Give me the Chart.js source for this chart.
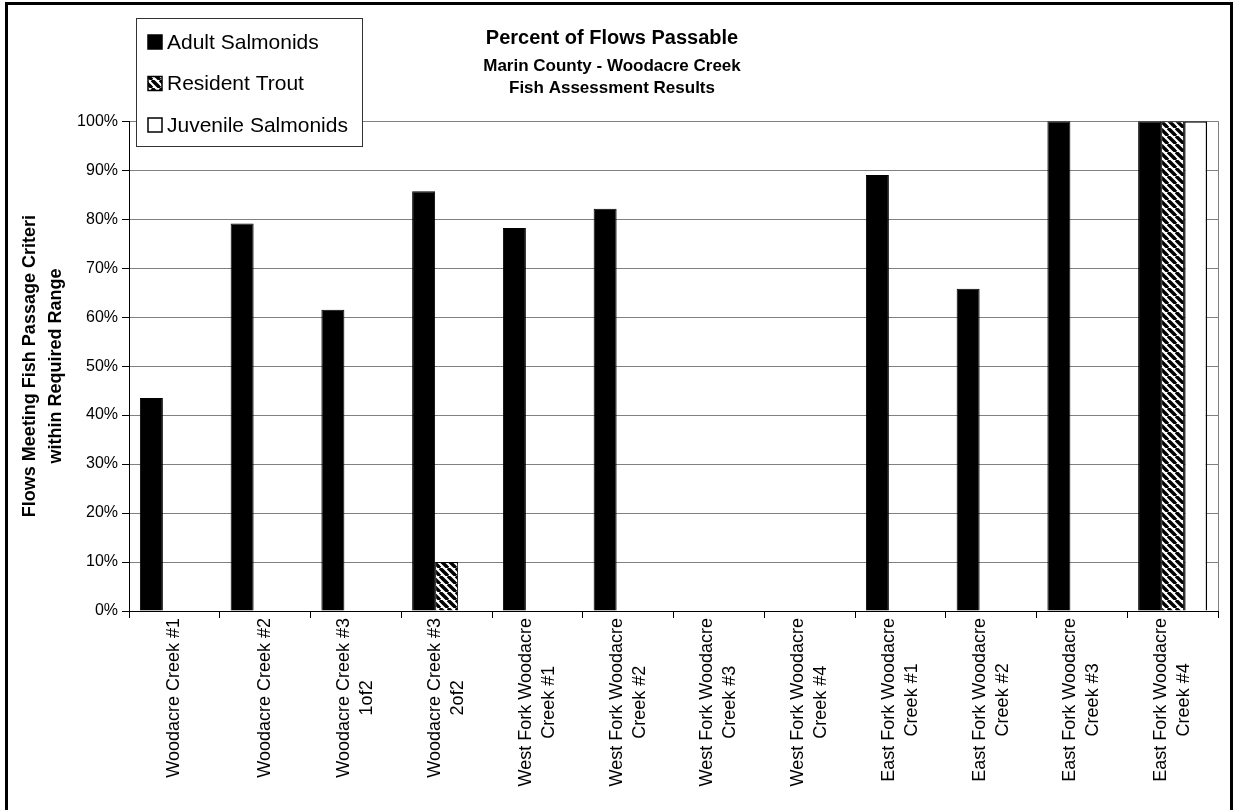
<!DOCTYPE html>
<html>
<head>
<meta charset="utf-8">
<script src="https://cdn.jsdelivr.net/npm/chart.js@4.4.1/dist/chart.umd.min.js"></script>
<style>
  html, body { margin: 0; padding: 0; background: #fff; }
  #wrap { position: relative; width: 1235px; height: 810px; }
</style>
</head>
<body>
<div id="wrap"><canvas id="grafico" width="1235" height="810"></canvas></div>
<script>
/* ==========================================================================
   DADOS
   ========================================================================== */
const categorias = [
    ['Woodacre Creek #1'],
    ['Woodacre Creek #2'],
    ['Woodacre Creek #3', '1of2'],
    ['Woodacre Creek #3', '2of2'],
    ['West Fork Woodacre', 'Creek #1'],
    ['West Fork Woodacre', 'Creek #2'],
    ['West Fork Woodacre', 'Creek #3'],
    ['West Fork Woodacre', 'Creek #4'],
    ['East Fork Woodacre', 'Creek #1'],
    ['East Fork Woodacre', 'Creek #2'],
    ['East Fork Woodacre', 'Creek #3'],
    ['East Fork Woodacre', 'Creek #4']
];
const adultSalmonids    = [43.5, 79.1, 61.5, 85.7, 78.2, 82.1, 0, 0, 89.0, 65.8, 100, 100];
const residentTrout     = [0, 0, 0, 10, 0, 0, 0, 0, 0, 0, 0, 100];
const juvenileSalmonids = [0, 0, 0, 0, 0, 0, 0, 0, 0, 0, 0, 100];
const tituloLinhas = ['Percent of Flows Passable'];
const subtituloLinhas = ['Marin County - Woodacre Creek', 'Fish Assessment Results'];
const tituloEixoY = ['Flows Meeting Fish Passage Criteri', 'within Required Range'];

const FONTE = '"Liberation Sans", Arial, sans-serif';

/* ==========================================================================
   PADRÃO HACHURADO (Resident Trout)
   ========================================================================== */
function criarHachura() {
    const c = document.createElement('canvas');
    c.width = 8; c.height = 8;
    const g = c.getContext('2d');
    g.fillStyle = '#fff';
    g.fillRect(0, 0, 8, 8);
    g.strokeStyle = '#000';
    g.lineWidth = 3.4;
    [-8, 0, 8].forEach(x0 => {
        g.beginPath();
        g.moveTo(x0, 0);
        g.lineTo(x0 + 8, 8);
        g.stroke();
    });
    return g.createPattern(c, 'repeat');
}
const hachura = criarHachura();

/* ==========================================================================
   PLUGIN: moldura, legenda e rótulos do eixo X
   ========================================================================== */
const extrasPlugin = {
    id: 'extras',
    afterDraw(chart) {
        const ctx = chart.ctx;
        const area = chart.chartArea;
        const xs = chart.scales.x;
        ctx.save();

        // borda direita da área de plotagem (cinza)
        ctx.strokeStyle = '#808080';
        ctx.lineWidth = 1;
        ctx.beginPath();
        ctx.moveTo(Math.round(area.right) + 0.5, area.top);
        ctx.lineTo(Math.round(area.right) + 0.5, area.bottom);
        ctx.stroke();

        // rótulos do eixo X (rotacionados, linhas centralizadas)
        ctx.fillStyle = '#000';
        ctx.font = '18px ' + FONTE;
        ctx.textBaseline = 'middle';
        ctx.textAlign = 'center';
        const alturaLinha = 23;
        chart.data.labels.forEach((linhas, i) => {
            const x = xs.getPixelForValue(i);
            const larg = Math.max(...linhas.map(l => ctx.measureText(l).width));
            const cy = area.bottom + 7 + larg / 2;
            ctx.save();
            ctx.translate(x, cy);
            ctx.rotate(-Math.PI / 2);
            linhas.forEach((l, k) => {
                const off = (k - (linhas.length - 1) / 2) * alturaLinha;
                ctx.fillText(l, 0, off);
            });
            ctx.restore();
        });

        // legenda
        const lx = 136, ly = 18, lw = 226, lh = 128;
        ctx.fillStyle = '#fff';
        ctx.fillRect(lx, ly, lw, lh);
        ctx.strokeStyle = '#333';
        ctx.lineWidth = 1;
        ctx.strokeRect(lx + 0.5, ly + 0.5, lw, lh);
        ctx.font = '21px ' + FONTE;
        ctx.textAlign = 'left';
        chart.data.datasets.forEach((ds, i) => {
            const cy = ly + 24 + i * 41.5;
            ctx.fillStyle = ds.backgroundColor;
            ctx.fillRect(148, cy - 7, 14, 14);
            ctx.strokeStyle = '#000';
            ctx.lineWidth = 1.5;
            ctx.strokeRect(148, cy - 7, 14, 14);
            ctx.fillStyle = '#000';
            ctx.fillText(ds.label, 167, cy + 1);
        });

        // moldura externa
        ctx.strokeStyle = '#000';
        ctx.lineWidth = 3;
        ctx.strokeRect(6.5, 3.5, 1225, 830);
        ctx.restore();
    }
};

/* ==========================================================================
   GRÁFICO
   ========================================================================== */
const ctx = document.getElementById('grafico').getContext('2d');

new Chart(ctx, {
    type: 'bar',
    data: {
        labels: categorias,
        datasets: [
            { label: 'Adult Salmonids', data: adultSalmonids, backgroundColor: '#000', borderColor: '#000', borderWidth: 1 },
            { label: 'Resident Trout', data: residentTrout, backgroundColor: hachura, borderColor: '#000', borderWidth: 1 },
            { label: 'Juvenile Salmonids', data: juvenileSalmonids, backgroundColor: '#fff', borderColor: '#000', borderWidth: 1.5 }
        ]
    },
    options: {
        responsive: false,
        animation: false,
        events: [],
        layout: { padding: { left: 6, right: 17, top: 0, bottom: 0 } },
        datasets: { bar: { categoryPercentage: 0.76, barPercentage: 1.0, inflateAmount: 0 } },
        plugins: {
            legend: { display: false },
            tooltip: { enabled: false },
            title: {
                display: true,
                text: tituloLinhas,
                color: '#000',
                font: { family: FONTE, size: 20, weight: 'bold', lineHeight: 1.2 },
                padding: { top: 26, bottom: 5 }
            },
            subtitle: {
                display: true,
                text: subtituloLinhas,
                color: '#000',
                font: { family: FONTE, size: 17, weight: 'bold', lineHeight: 1.3 },
                padding: { top: 0, bottom: 22 }
            }
        },
        scales: {
            x: {
                grid: { drawOnChartArea: false, drawTicks: true, tickLength: 7, tickColor: '#000' },
                border: { color: '#000', width: 1 },
                ticks: { display: false },
                afterFit: (s) => { s.height = 199; }
            },
            y: {
                min: 0,
                max: 100,
                ticks: {
                    stepSize: 10,
                    color: '#000',
                    padding: 4,
                    font: { family: FONTE, size: 16 },
                    callback: (v) => v + '%'
                },
                grid: { color: '#808080', tickColor: '#000', tickLength: 7 },
                border: { color: '#000', width: 1 },
                title: {
                    display: true,
                    text: tituloEixoY,
                    color: '#000',
                    font: { family: FONTE, size: 18, weight: 'bold', lineHeight: 1.45 },
                    padding: { top: 11, bottom: 0 }
                },
                afterFit: (s) => { s.width = 123; }
            }
        }
    },
    plugins: [extrasPlugin]
});
</script>
</body>
</html>
